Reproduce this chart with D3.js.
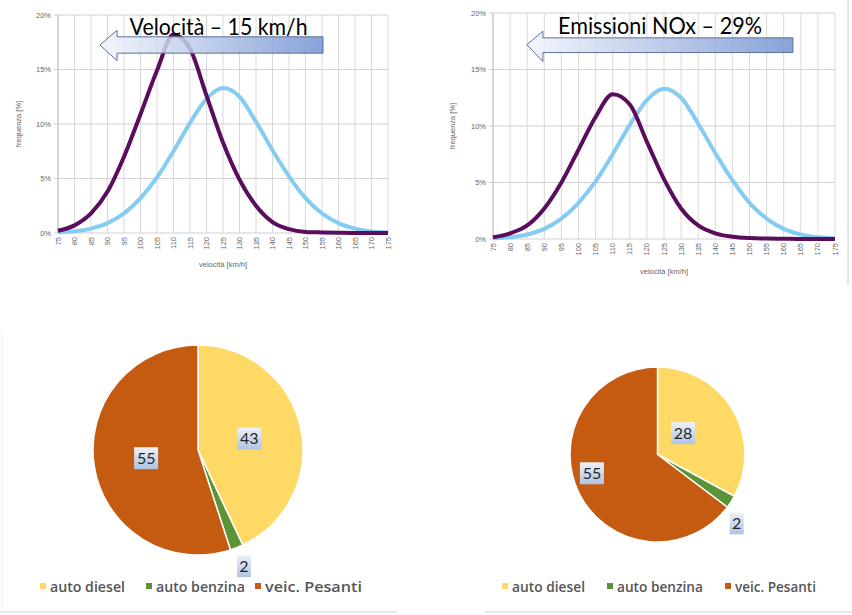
<!DOCTYPE html>
<html><head><meta charset="utf-8">
<script src="https://cdn.jsdelivr.net/npm/d3@7"></script>
<style>
html,body{margin:0;padding:0;background:#fff;}
svg{display:block;}
</style></head>
<body>
<script>
// ---------------- DATA ----------------
const speeds = [75,80,85,90,95,100,105,110,115,120,125,130,135,140,145,150,155,160,165,170,175];
const yTicks = [0,5,10,15,20];
// current speed distribution (light blue, same in both charts)
const freqCurrent = [0.05,0.15,0.4,0.9,1.8,3.2,5.1,7.5,10.1,12.3,13.3,12.5,10.2,7.6,5.2,3.2,1.8,0.9,0.4,0.15,0.05];
// reduced-speed distribution, "Velocità – 15 km/h" chart (purple)
const freqSpeedCase = [0.2,0.7,1.8,3.8,7.0,10.9,14.9,18.2,16.9,12.6,8.3,4.9,2.5,1.0,0.35,0.1,0.05,0.02,0,0,0];
// reduced-speed distribution, "Emissioni NOx – 29%" chart (purple)
const freqNoxCase = [0.15,0.5,1.2,2.7,5.0,7.9,10.8,12.8,11.9,8.6,5.3,2.7,1.2,0.5,0.2,0.08,0.04,0.02,0,0,0];
const titleLeft = "Velocità – 15 km/h";
const titleRight = "Emissioni NOx  – 29%";
const yAxisTitle = "frequenza [%]";
const xAxisTitle = "velocità [km/h]";

const pieCategories = ["auto diesel","auto benzina","veic. Pesanti"];
const pieLeftValues = [43,2,55];
const pieRightValues = [28,2,55];
const pieColors = ["#FFD966","#5B9337","#C55A11"];

// ---------------- SVG ----------------
const W = 852, H = 615;
const svg = d3.select("body").append("svg").attr("width", W).attr("height", H);
const defs = svg.append("defs");

const arrowGrad = defs.append("linearGradient").attr("id","arrowGrad").attr("x1","0").attr("x2","1").attr("y1","0").attr("y2","0");
arrowGrad.append("stop").attr("offset","0").attr("stop-color","#f2f5fb");
arrowGrad.append("stop").attr("offset","1").attr("stop-color","#7393d2");

const boxGrad = defs.append("linearGradient").attr("id","boxGrad").attr("x1","0").attr("x2","0").attr("y1","0").attr("y2","1");
boxGrad.append("stop").attr("offset","0").attr("stop-color","#eef2f9");
boxGrad.append("stop").attr("offset","1").attr("stop-color","#aec3e4");

function lineChart(cfg) {
  const x = d3.scaleLinear().domain([75,175]).range([cfg.x0, cfg.x1]);
  const y = d3.scaleLinear().domain([0,20]).range([cfg.y0, cfg.y1]);
  const g = svg.append("g");

  g.append("g").selectAll("line").data(speeds).join("line")
    .attr("x1", d=>x(d)).attr("x2", d=>x(d)).attr("y1", y(0)).attr("y2", y(20))
    .attr("stroke","#d9d9d9").attr("stroke-width",1);
  g.append("g").selectAll("line").data(yTicks).join("line")
    .attr("x1", x(75)-4).attr("x2", x(175)).attr("y1", d=>y(d)).attr("y2", d=>y(d))
    .attr("stroke","#d0d0d0").attr("stroke-width",1);
  g.append("line").attr("x1",x(75)).attr("x2",x(75)).attr("y1",y(0)).attr("y2",y(20)).attr("stroke","#bfbfbf");

  g.append("g").selectAll("text").data(yTicks).join("text")
    .attr("x", x(75)-7).attr("y", d=>y(d)+2.5).attr("text-anchor","end")
    .attr("font-family","Liberation Sans, Arial, sans-serif").attr("font-size",7.5).attr("fill","#666")
    .text(d=>d+"%");
  g.append("g").selectAll("text").data(speeds).join("text")
    .attr("transform", d=>`translate(${x(d)+2.5},${y(0)+4}) rotate(-90)`)
    .attr("text-anchor","end")
    .attr("font-family","Liberation Sans, Arial, sans-serif").attr("font-size",7.5).attr("fill","#666")
    .text(d=>d);
  g.append("text").attr("x",(x(75)+x(175))/2).attr("y",cfg.xTitleY).attr("text-anchor","middle")
    .attr("font-family","Liberation Sans, Arial, sans-serif").attr("font-size",7.5).attr("fill","#666").text(xAxisTitle);
  g.append("text").attr("transform",`translate(${cfg.yTitleX},${(y(0)+y(20))/2}) rotate(-90)`).attr("text-anchor","middle")
    .attr("font-family","Liberation Sans, Arial, sans-serif").attr("font-size",7.5).attr("fill","#666").text(yAxisTitle);

  const line = d3.line().x((d,i)=>x(speeds[i])).y(d=>y(d)).curve(d3.curveMonotoneX);
  g.append("path").datum(freqCurrent).attr("d",line).attr("fill","none")
    .attr("stroke","#86cbf1").attr("stroke-width",4).attr("stroke-linejoin","round");
  g.append("path").datum(cfg.series).attr("d",line).attr("fill","none")
    .attr("stroke","#5a0d5c").attr("stroke-width",4).attr("stroke-linejoin","round");

  const a = cfg.arrow;
  const pts = [[a.tip, a.yMid],[a.bodyStart, a.headTop],[a.bodyStart, a.bodyTop],[a.end, a.bodyTop],
               [a.end, a.bodyBot],[a.bodyStart, a.bodyBot],[a.bodyStart, a.headBot]];
  g.append("polygon").attr("points", pts.map(p=>[x(p[0]),y(p[1])].join(",")).join(" "))
    .attr("fill","url(#arrowGrad)").attr("fill-opacity",0.85).attr("stroke","#5f7199").attr("stroke-width",1);

  g.append("text").attr("x", x(cfg.titleX)).attr("y", y(cfg.titleY))
    .attr("font-family","Lato, 'Open Sans', sans-serif").attr("font-size",24).attr("fill","#000")
    .attr("textLength", cfg.titleLen).attr("lengthAdjust","spacingAndGlyphs")
    .text(cfg.title);
}

lineChart({x0:58,x1:388,y0:233,y1:15,xTitleY:267,yTitleX:21,series:freqSpeedCase,
  arrow:{tip:87.7,bodyStart:92.9,end:155.3,yMid:17.25,headTop:18.6,headBot:15.8,bodyTop:18.0,bodyBot:16.5},
  title:titleLeft,titleX:96.7,titleY:18.2,titleLen:178});
lineChart({x0:493,x1:835,y0:239,y1:13,xTitleY:274,yTitleX:455,series:freqNoxCase,
  arrow:{tip:84.9,bodyStart:89.6,end:162.7,yMid:17.2,headTop:18.4,headBot:15.7,bodyTop:17.8,bodyBot:16.5},
  title:titleRight,titleX:94,titleY:18.1,titleLen:204});

svg.append("line").attr("x1",848).attr("x2",848).attr("y1",0).attr("y2",285).attr("stroke","#d0d0d0");

// ---------------- PIES ----------------
function pieChart(cfg) {
  const g = svg.append("g").attr("transform",`translate(${cfg.cx},${cfg.cy})`);
  const pie = d3.pie().sort(null).value(d=>d)(cfg.values);
  const arc = d3.arc().innerRadius(0).outerRadius(cfg.r);
  g.selectAll("path").data(pie).join("path").attr("d",arc)
    .attr("fill",(d,i)=>pieColors[i]).attr("stroke","#fff").attr("stroke-width",1.5);

  pie.forEach((d,i)=>{
    const lp = cfg.labelPos[i];
    const ang = (lp.angle != null ? lp.angle*Math.PI/180 : (d.startAngle+d.endAngle)/2);
    const rr = lp.rf*cfg.r;
    const lx = rr*Math.sin(ang), ly = -rr*Math.cos(ang);
    const txt = String(cfg.values[i]);
    const bw = txt.length>1 ? 24 : 14, bh = 22;
    g.append("rect").attr("x",lx-bw/2).attr("y",ly-bh/2).attr("width",bw).attr("height",bh)
      .attr("fill","url(#boxGrad)");
    g.append("text").attr("x",lx).attr("y",ly+5.5).attr("text-anchor","middle")
      .attr("font-family","Lato, 'Open Sans', sans-serif").attr("font-size",16).attr("fill","#262626")
      .text(txt);
  });

  const lg = svg.append("g");
  cfg.legendX.forEach((lx,i)=>{
    lg.append("rect").attr("x",lx).attr("y",cfg.legendY-4).attr("width",6).attr("height",6).attr("fill",pieColors[i]);
    lg.append("text").attr("x",lx+10).attr("y",cfg.legendY+5)
      .attr("font-family","'Open Sans', Lato, sans-serif").attr("font-size",14).attr("fill","#555")
      .attr("font-weight",600)
      .attr("textLength",cfg.legendLen[i]).attr("lengthAdjust","spacingAndGlyphs")
      .text(pieCategories[i]);
  });
  svg.append("line").attr("x1",cfg.baseX0).attr("x2",cfg.baseX1).attr("y1",612).attr("y2",612).attr("stroke","#d0d0d0");
}

pieChart({cx:198,cy:450,r:105,values:pieLeftValues,
  labelPos:[{rf:0.5},{rf:1.19},{rf:0.5}],
  legendX:[40,146,255],legendLen:[75,89,97],legendY:587,baseX0:0,baseX1:397});
pieChart({cx:657.5,cy:454.5,r:87.5,values:pieRightValues,
  labelPos:[{angle:50,rf:0.38},{angle:131,rf:1.2},{angle:254,rf:0.78}],
  legendX:[502,607,725],legendLen:[73,86,81],legendY:587,baseX0:485,baseX1:852});
svg.append("line").attr("x1",2).attr("x2",2).attr("y1",330).attr("y2",612).attr("stroke","#eeeeee");
</script>
</body></html>
